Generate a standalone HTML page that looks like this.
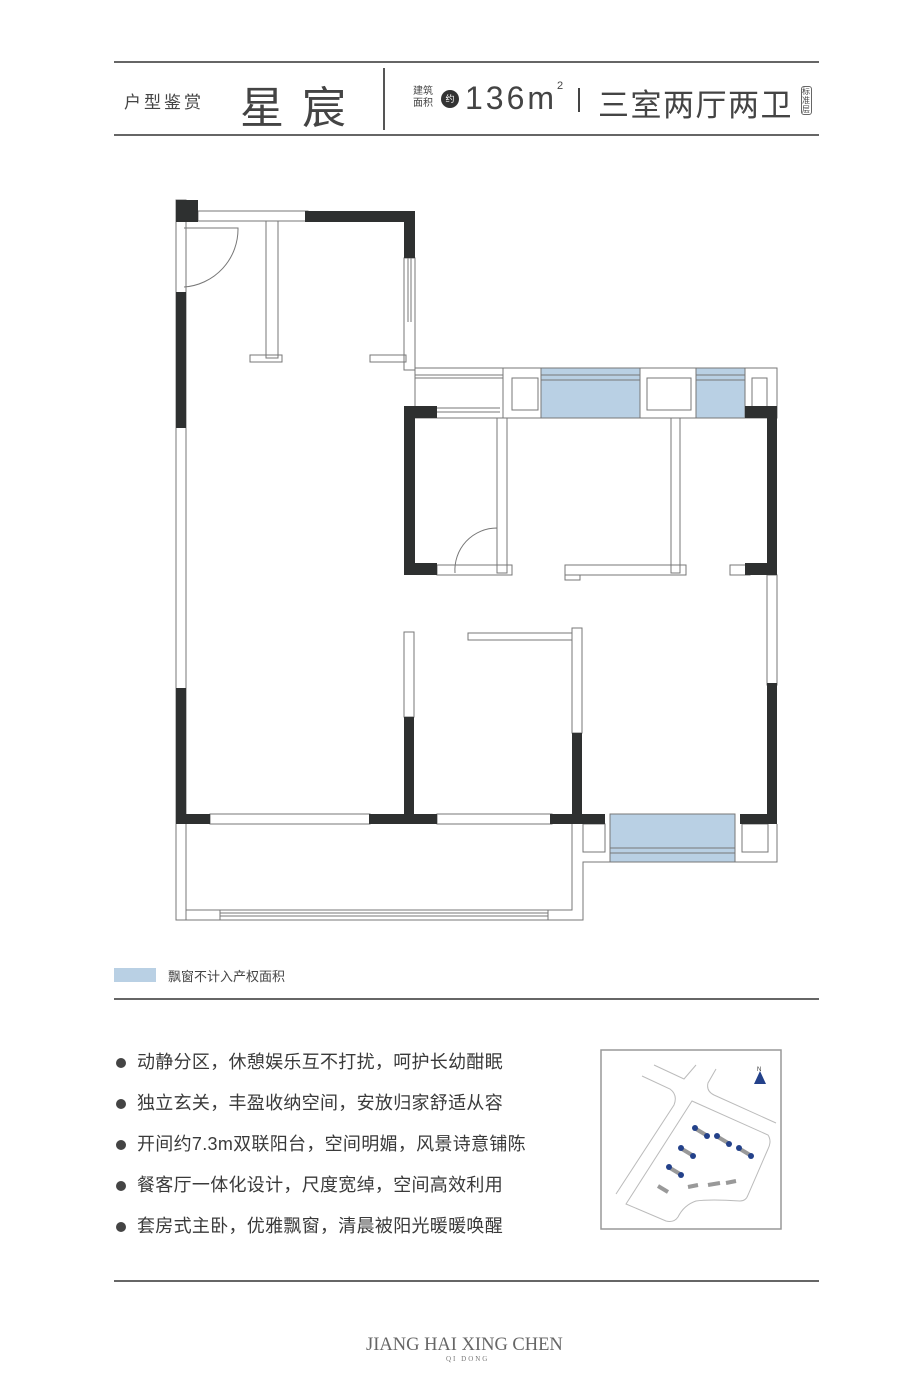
<!DOCTYPE html>
<html><head><meta charset="utf-8"><style>
body{margin:0;background:#fff;width:920px;height:1400px;position:relative;overflow:hidden;font-family:"Liberation Sans","Noto Sans CJK SC",sans-serif;color:#3a3a3a}
.a{position:absolute;white-space:nowrap}
.li{position:relative;padding-left:21px}
.li:before{content:"";position:absolute;left:0;top:16px;width:10px;height:10px;border-radius:50%;background:#444}
</style></head><body>
<div class="a" style="left:114px;top:61px;width:705px;height:2px;background:#666"></div>
<div class="a" style="left:114px;top:134px;width:705px;height:2px;background:#666"></div>
<div class="a" style="left:383px;top:68px;width:2px;height:62px;background:#555"></div>
<div class="a" style="left:124px;top:88px;font-size:17px;letter-spacing:3px;color:#444">户型鉴赏</div>
<div class="a" style="left:240px;top:72px;font-size:44px;letter-spacing:18px;color:#444">星宸</div>
<div class="a" style="left:413px;top:86px;font-size:10px;line-height:12px;color:#444">建筑<br>面积</div>
<div class="a" style="left:441px;top:90px;width:18px;height:18px;border-radius:50%;background:#333;color:#fff;font-size:9px;line-height:18px;text-align:center">约</div>
<div class="a" style="left:465px;top:80px;font-size:32px;letter-spacing:3px;color:#444">136m<sup style="font-size:11px;vertical-align:top">2</sup></div>
<div class="a" style="left:578px;top:88px;width:2px;height:24px;background:#444"></div>
<div class="a" style="left:598px;top:80px;font-size:31px;letter-spacing:1.5px;color:#444">三室两厅两卫</div>
<div class="a" style="left:801px;top:86px;width:9px;font-size:8px;line-height:9px;border:1px solid #666;border-radius:3px;color:#444;white-space:normal">标准层</div>

<svg class="a" style="left:0;top:0" width="920" height="960" viewBox="0 0 920 960">
<g fill="none" stroke="#777" stroke-width="1">
<rect x="176" y="200" width="10" height="720" fill="#fff"/>
<rect x="198" y="211" width="110" height="10"/>
<rect x="404" y="258" width="11" height="112"/>
<line x1="408" y1="258" x2="408" y2="322"/><line x1="411" y1="258" x2="411" y2="322"/>
<rect x="266" y="221" width="12" height="137"/>
<rect x="250" y="355" width="32" height="7"/>
<rect x="370" y="355" width="36" height="7"/>
<rect x="415" y="368" width="362" height="50"/>
<line x1="415" y1="375" x2="503" y2="375"/><line x1="415" y1="378" x2="503" y2="378"/>
<line x1="503" y1="368" x2="503" y2="418"/>
<rect x="512" y="378" width="26" height="32"/>
<rect x="647" y="378" width="44" height="32"/>
<rect x="752" y="378" width="15" height="30"/>
<line x1="437" y1="408" x2="500" y2="408"/><line x1="437" y1="412" x2="500" y2="412"/>
<rect x="497" y="418" width="10" height="155"/>
<rect x="671" y="418" width="9" height="155"/>
<rect x="437" y="565" width="75" height="10"/>
<rect x="565" y="565" width="121" height="10"/>
<rect x="565" y="575" width="15" height="5"/>
<rect x="730" y="565" width="20" height="10"/>
<rect x="767" y="575" width="10" height="110"/>
<rect x="404" y="632" width="10" height="85"/>
<rect x="572" y="628" width="10" height="105"/>
<rect x="468" y="633" width="104" height="7"/>
<rect x="210" y="814" width="160" height="10"/>
<rect x="437" y="814" width="115" height="10"/>
<path d="M176 824 V920 H583 V862 H610 V824"/>
<path d="M186 824 V910 H572 V824"/>
<line x1="220" y1="913" x2="548" y2="913"/><line x1="220" y1="916" x2="548" y2="916"/>
<line x1="220" y1="910" x2="220" y2="920"/><line x1="548" y1="910" x2="548" y2="920"/>
<path d="M777 824 V862 H583"/>
<rect x="583" y="824" width="22" height="28"/>
<rect x="742" y="824" width="26" height="28"/>
<path d="M184 228 H238 A58 58 0 0 1 184 287"/>
<path d="M455 573 A42 42 0 0 1 497 528 V573"/>
</g>
<g fill="#b9d0e4" stroke="#777" stroke-width="1">
<rect x="541" y="368" width="99" height="50"/>
<rect x="696" y="368" width="49" height="50"/>
<rect x="610" y="814" width="125" height="48"/>
</g>
<g stroke="#777" stroke-width="1">
<line x1="541" y1="375" x2="640" y2="375"/><line x1="541" y1="380" x2="640" y2="380"/>
<line x1="696" y1="375" x2="745" y2="375"/><line x1="696" y1="380" x2="745" y2="380"/>
<line x1="610" y1="848" x2="735" y2="848"/><line x1="610" y1="853" x2="735" y2="853"/>
</g>
<g fill="#2e3030">
<rect x="176" y="200" width="22" height="22"/>
<rect x="305" y="211" width="110" height="11"/>
<rect x="404" y="211" width="11" height="47"/>
<rect x="176" y="292" width="10" height="136"/>
<rect x="404" y="406" width="11" height="169"/>
<rect x="404" y="406" width="33" height="12"/>
<rect x="404" y="563" width="33" height="12"/>
<rect x="767" y="406" width="10" height="169"/>
<rect x="745" y="406" width="32" height="12"/>
<rect x="745" y="563" width="32" height="12"/>
<rect x="767" y="683" width="10" height="141"/>
<rect x="740" y="814" width="37" height="10"/>
<rect x="176" y="688" width="10" height="136"/>
<rect x="176" y="814" width="34" height="10"/>
<rect x="404" y="717" width="10" height="100"/>
<rect x="369" y="814" width="68" height="10"/>
<rect x="572" y="733" width="10" height="84"/>
<rect x="550" y="814" width="55" height="10"/>
</g>
</svg>

<div class="a" style="left:114px;top:968px;width:42px;height:14px;background:#b9d0e4"></div>
<div class="a" style="left:168px;top:966px;font-size:13px;color:#444">飘窗不计入产权面积</div>
<div class="a" style="left:114px;top:998px;width:705px;height:2px;background:#666"></div>
<div class="a" style="left:116px;top:1042px;font-size:18px;letter-spacing:0.3px;line-height:41px;color:#3a3a3a">
<div class="li">动静分区，休憩娱乐互不打扰，呵护长幼酣眠</div>
<div class="li">独立玄关，丰盈收纳空间，安放归家舒适从容</div>
<div class="li">开间约7.3m双联阳台，空间明媚，风景诗意铺陈</div>
<div class="li">餐客厅一体化设计，尺度宽绰，空间高效利用</div>
<div class="li">套房式主卧，优雅飘窗，清晨被阳光暖暖唤醒</div>
</div>
<svg class="a" style="left:600px;top:1049px" width="182" height="181" viewBox="0 0 182 181">
<rect x="1" y="1" width="180" height="179" fill="#fff" stroke="#999" stroke-width="1.5"/>
<g fill="none" stroke="#bbb" stroke-width="1">
<path d="M54 16 L84 30 L96 16"/><path d="M42 27 L70 40 Q78 46 74 56 L16 145"/>
<path d="M116 20 L108 34 Q106 42 114 46 L176 74"/>
<path d="M92 52 L168 86 Q172 92 168 100 L148 146 Q146 152 140 152 Q110 150 96 152 Q84 156 78 168 Q74 174 66 172 L26 155 Z"/>
</g>
<g stroke="#999" stroke-width="4"><line x1="96" y1="80" x2="106" y2="86"/><line x1="118" y1="88" x2="128" y2="94"/><line x1="140" y1="100" x2="150" y2="106"/><line x1="82" y1="100" x2="92" y2="106"/><line x1="70" y1="119" x2="80" y2="125"/><line x1="58" y1="137" x2="68" y2="143"/><line x1="88" y1="138" x2="98" y2="136"/><line x1="108" y1="136" x2="120" y2="134"/><line x1="126" y1="134" x2="136" y2="132"/></g>
<g fill="#23418a"><circle cx="95" cy="79" r="3"/><circle cx="107" cy="87" r="3"/><circle cx="117" cy="87" r="3"/><circle cx="129" cy="95" r="3"/><circle cx="139" cy="99" r="3"/><circle cx="151" cy="107" r="3"/><circle cx="81" cy="99" r="3"/><circle cx="93" cy="107" r="3"/><circle cx="69" cy="118" r="3"/><circle cx="81" cy="126" r="3"/></g>
<polygon points="160,22 154,35 166,35" fill="#23418a"/>
<text x="157" y="22" font-size="6" fill="#333">N</text>
</svg>
<div class="a" style="left:114px;top:1280px;width:705px;height:2px;background:#666"></div>
<div class="a" style="left:366px;top:1335px;font-family:'Liberation Serif',serif;font-size:18.5px;color:#666">JIANG HAI XING CHEN</div>
<div class="a" style="left:446px;top:1355px;font-family:'Liberation Serif',serif;font-size:7px;letter-spacing:2px;color:#777">QI DONG</div>
</body></html>
